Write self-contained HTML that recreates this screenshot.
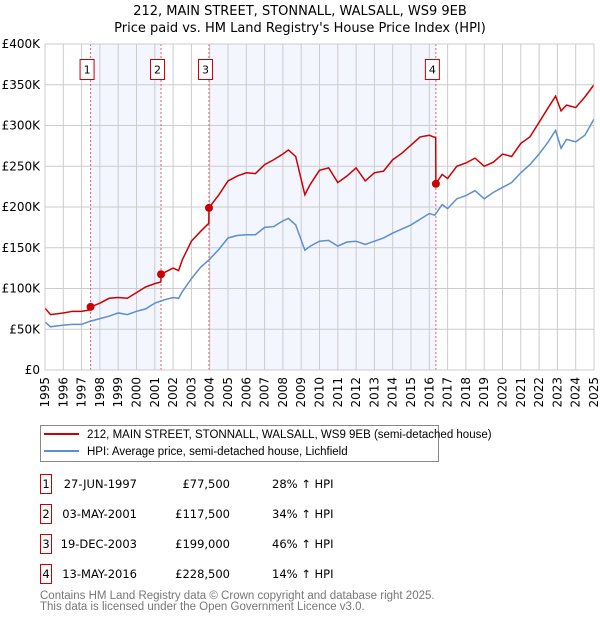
<!DOCTYPE html>
<html><head><meta charset="utf-8"><style>
body{margin:0;background:#fff;font-family:"DejaVu Sans","Liberation Sans",sans-serif;}
svg text{font-family:"DejaVu Sans","Liberation Sans",sans-serif;}
svg .lib{font-family:"Liberation Sans",sans-serif;}
</style></head><body>
<svg id="c" width="600" height="620" xmlns="http://www.w3.org/2000/svg">
<text x="300" y="15" text-anchor="middle" font-size="13">212, MAIN STREET, STONNALL, WALSALL, WS9 9EB</text>
<text x="300" y="32" text-anchor="middle" font-size="13">Price paid vs. HM Land Registry's House Price Index (HPI)</text>
<g id="plot"></g>
<g>
<rect x="40.5" y="425.5" width="398" height="36" fill="#fff" stroke="#888"/>
<line x1="44" y1="434" x2="79" y2="434" stroke="#cc0000" stroke-width="2"/>
<text class="lib" x="87" y="438" font-size="11.5">212, MAIN STREET, STONNALL, WALSALL, WS9 9EB (semi-detached house)</text>
<line x1="44" y1="451" x2="79" y2="451" stroke="#5b8fd0" stroke-width="2"/>
<text class="lib" x="87" y="455" font-size="11.5">HPI: Average price, semi-detached house, Lichfield</text>
</g>
<g id="table" font-size="11.5" class="lib"></g>
<text class="lib" x="40" y="599" font-size="11.5" fill="#777">Contains HM Land Registry data © Crown copyright and database right 2025.</text>
<text class="lib" x="40" y="610" font-size="11.5" fill="#777">This data is licensed under the Open Government Licence v3.0.</text>
</svg>
<script>
const hpiYears=[1995,1995.3,1996,1996.5,1997,1997.5,1998,1998.5,1999,1999.5,2000,2000.5,2001,2001.5,2002,2002.3,2002.5,2003,2003.5,2004,2004.5,2005,2005.5,2006,2006.5,2007,2007.5,2008,2008.3,2008.7,2009.2,2009.5,2010,2010.5,2011,2011.5,2012,2012.5,2013,2013.5,2014,2014.5,2015,2015.5,2016,2016.3,2016.7,2017,2017.5,2018,2018.5,2019,2019.5,2020,2020.5,2021,2021.5,2022,2022.5,2022.9,2023.2,2023.5,2024,2024.5,2025];
const hpiValues=[59,53,55,56,56,60,63,66,70,68,72,75,82,86,89,88,96,112,126,136,148,162,165,166,166,175,176,183,186,178,147,152,158,159,152,157,158,154,158,162,168,173,178,185,192,190,203,198,210,214,220,210,218,224,230,242,252,265,280,294,272,283,280,288,308];
const ppYears=[1995,1995.3,1996,1996.5,1997,1997.49,1997.5,1998,1998.5,1999,1999.5,2000,2000.5,2001,2001.33,2001.34,2002,2002.3,2002.5,2003,2003.5,2003.95,2003.96,2004.5,2005,2005.5,2006,2006.5,2007,2007.5,2008,2008.3,2008.7,2009.2,2009.5,2010,2010.5,2011,2011.5,2012,2012.5,2013,2013.5,2014,2014.5,2015,2015.5,2016,2016.35,2016.36,2016.7,2017,2017.5,2018,2018.5,2019,2019.5,2020,2020.5,2021,2021.5,2022,2022.5,2022.9,2023.2,2023.5,2024,2024.5,2025];
const ppValues=[76,68,70,72,72,74,77.5,82,88,89,88,95,102,106,108,117.5,125,122,135,158,170,180,199,215,232,238,242,241,252,258,265,270,262,215,228,245,248,230,238,248,232,242,244,258,266,276,286,288,285,228.5,240,235,250,254,260,250,255,265,262,278,286,304,322,336,318,325,322,335,350];
const saleYears=[1997.49,2001.34,2003.96,2016.36];
const salePrices=[77.5,117.5,199,228.5];
const saleLabels=["1","2","3","4"];
const saleDates=["27-JUN-1997","03-MAY-2001","19-DEC-2003","13-MAY-2016"];
const salePriceText=["£77,500","£117,500","£199,000","£228,500"];
const saleHpiText=["28% ↑ HPI","34% ↑ HPI","46% ↑ HPI","14% ↑ HPI"];
const yTicks=[0,50,100,150,200,250,300,350,400];
const yTickLabels=["£0","£50K","£100K","£150K","£200K","£250K","£300K","£350K","£400K"];
const xTicks=[1995,1996,1997,1998,1999,2000,2001,2002,2003,2004,2005,2006,2007,2008,2009,2010,2011,2012,2013,2014,2015,2016,2017,2018,2019,2020,2021,2022,2023,2024,2025];

const X0=45,X1=594,Y0=370,Y1=44;
const xs=v=>X0+(v-1995)/30*(X1-X0);
const ys=v=>Y0-v/400*(Y0-Y1);
const NS="http://www.w3.org/2000/svg";
function mk(parent,tag,attrs){const e=document.createElementNS(NS,tag);for(const k in attrs)e.setAttribute(k,attrs[k]);parent.appendChild(e);return e;}
const plot=document.getElementById('plot');
const bg=mk(plot,'rect',{x:X0,y:Y1,width:X1-X0,height:Y0-Y1,fill:'#fff'});


for(let i=0;i<saleYears.length;i+=2){const a=saleYears[i],b=i+1<saleYears.length?saleYears[i+1]:saleYears[i];
 const r=mk(plot,'rect',{x:xs(a),y:Y1,width:xs(b)-xs(a),height:Y0-Y1,fill:'#f3f6fe'});
 
 }
xTicks.forEach(t=>{const l=mk(plot,'line',{x1:xs(t),x2:xs(t),y1:Y1,y2:Y0,stroke:'#ccc','stroke-width':1});
 
 
 const tx=mk(plot,'text',{x:0,y:0,'font-size':12,'text-anchor':'end',transform:`translate(${xs(t)+4},377) rotate(-90)`});
 tx.textContent=t;
 
 });
yTicks.forEach((t,i)=>{const l=mk(plot,'line',{x1:X0,x2:X1,y1:ys(t),y2:ys(t),stroke:'#ccc','stroke-width':1});
 
 
 const tx=mk(plot,'text',{x:40,y:ys(t)+4,'font-size':12,'text-anchor':'end'});
 tx.textContent=yTickLabels[i];
 
 });
saleYears.forEach((s,i)=>{const l=mk(plot,'line',{x1:xs(s),x2:xs(s),y1:Y1,y2:Y0,stroke:'#e06060','stroke-dasharray':'2,2','stroke-width':1});
 
 
 const r=mk(plot,'rect',{x:xs(s)-10.5,y:59.5,width:14,height:20,fill:'#fff',stroke:'#cc0000'});
 
 
 const t=mk(plot,'text',{x:xs(s)-3.5,y:73.5,'font-size':11,'text-anchor':'middle'});
 t.textContent=saleLabels[i];
 
 });
const hp=mk(plot,'polyline',{points:hpiYears.map((y,i)=>xs(y)+','+ys(hpiValues[i])).join(' '),fill:'none',stroke:'#5b8fd0','stroke-width':1.5});


const pp=mk(plot,'polyline',{points:ppYears.map((y,i)=>xs(y)+','+ys(ppValues[i])).join(' '),fill:'none',stroke:'#cc0000','stroke-width':1.5});


saleYears.forEach((s,i)=>{const c=mk(plot,'circle',{cx:xs(s),cy:ys(salePrices[i]),r:4,fill:'#cc0000'});
 
 });
const fr=mk(plot,'rect',{x:X0,y:Y1,width:X1-X0,height:Y0-Y1,fill:'none',stroke:'#ccc'});


const tb=document.getElementById('table');
saleLabels.forEach((s,i)=>{const y=483+i*30;
 const r=mk(tb,'rect',{x:40.5,y:y-8.5,width:11,height:19,fill:'#fff',stroke:'#cc0000'});
 
 
 const cols=[[46,'middle',s,'table-row-number'],[137,'end',saleDates[i],'table-row-date'],[230,'end',salePriceText[i],'table-row-price'],[272,'start',saleHpiText[i],'table-row-hpi']];
 cols.forEach(c=>{const t=mk(tb,'text',{x:c[0],y:y+5,'text-anchor':c[1]});
  t.textContent=c[2];
  
  });});
</script>
</body></html>
